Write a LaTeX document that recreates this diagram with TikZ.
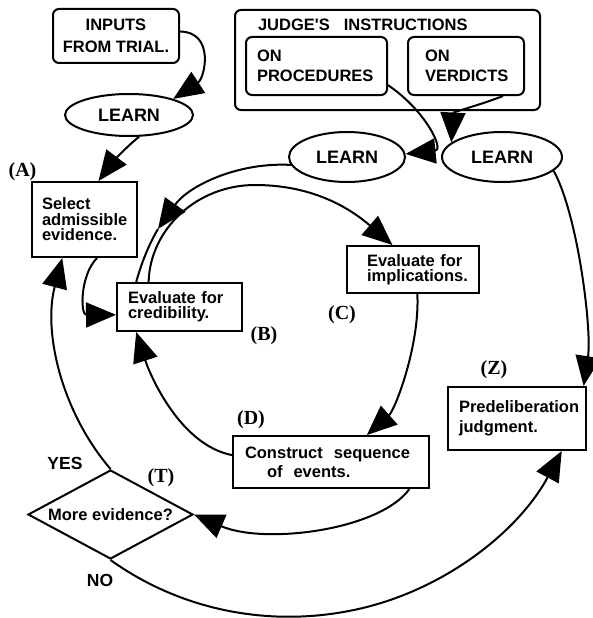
\documentclass[tikz,border=0pt]{standalone}
\usepackage{fontspec}
\newfontfamily\hv{Liberation Sans}
\newfontfamily\tm{Liberation Serif}
\usetikzlibrary{arrows.meta,shapes.geometric}
\hfuzz=40pt
\begin{document}
\begin{tikzpicture}[x=1pt,y=-1pt,line width=2pt,
  arr/.style={-{Triangle[length=30pt,width=25pt]}},
  box/.style={draw,rectangle,inner ysep=0pt,align=left,
    font=\hv\bfseries\fontsize{16.5pt}{#1}\selectfont},
  rbox/.style={box=#1,rounded corners=6pt},
  learn/.style={draw,ellipse,inner sep=0pt,
    font=\hv\bfseries\fontsize{18pt}{20pt}\selectfont},
  lettertag/.style={inner sep=0pt,font=\tm\bfseries\fontsize{20pt}{22pt}\selectfont},
  answer/.style={inner sep=0pt,font=\hv\bfseries\fontsize{17.5pt}{20pt}\selectfont},
]
\useasboundingbox (0,0) rectangle (593,618);

% --- sources of information ---
\node[rbox=22pt,align=center,inner xsep=0pt,minimum width=126pt,minimum height=54pt]
  (inputs) at (116,36) {INPUTS\\FROM~TRIAL.};
\node[draw,rounded corners=6pt,inner sep=0pt,minimum width=305pt,minimum height=100pt]
  (judge) at (387.5,60) {};
\node[anchor=base west,inner sep=0pt,font=\hv\bfseries\fontsize{16.5pt}{20pt}\selectfont]
  (judgetitle) at (257,31) {JUDGE'S\hspace{14pt}INSTRUCTIONS};
\node[rbox=20pt,inner xsep=11pt,text width=119pt,minimum height=58pt]
  (proc) at (316.5,66) {ON\\PROCEDURES};
\node[rbox=20pt,inner xsep=17pt,text width=82pt,minimum height=58pt]
  (verd) at (466,66) {ON\\VERDICTS};

% --- learning steps ---
\node[learn,minimum width=128pt,minimum height=42pt] (learn1) at (129,115) {LEARN};
\node[learn,minimum width=116pt,minimum height=50pt] (learn2) at (347,157) {LEARN};
\node[learn,minimum width=120pt,minimum height=50pt] (learn3) at (502,157) {LEARN};

% --- processing stages ---
\node[box=15.5pt,inner xsep=10pt,text width=85pt,minimum height=75pt]
  (select) at (84.5,219.5) {Select\\admissible\\evidence.};
\node[box=15pt,inner xsep=11pt,text width=103pt,minimum height=48pt]
  (cred) at (179.5,307) {Evaluate~for\\credibility.};
\node[box=15pt,inner xsep=20pt,text width=92pt,minimum height=47pt]
  (impl) at (413,269.5) {Evaluate~for\\implications.};
\node[box=19pt,inner xsep=12pt,text width=172pt,minimum height=52pt]
  (construct) at (331,462) {Construct~~sequence\\\hspace*{22pt}of~~events.};
\node[box=20pt,inner xsep=11pt,text width=116pt,minimum height=63pt]
  (pred) at (517,418.5) {Predeliberation\\judgment.};
\node[draw,diamond,aspect=1.85,inner sep=0pt,minimum width=165pt,minimum height=89pt,
  font=\hv\bfseries\fontsize{16.5pt}{18pt}\selectfont]
  (test) at (110.5,514.5) {More evidence?};

% --- stage letters and answers ---
\node[lettertag] (tA) at (22.5,171.5) {(A)};
\node[lettertag] (tB) at (264,336) {(B)};
\node[lettertag] (tC) at (342,315) {(C)};
\node[lettertag] (tD) at (251,420) {(D)};
\node[lettertag] (tT) at (161,478) {(T)};
\node[lettertag] (tZ) at (494,370) {(Z)};
\node[answer] (yes) at (65,463.5) {YES};
\node[answer] (no) at (100,580) {NO};

% --- connectors ---
\draw[arr] (inputs.4) .. controls (215,32) and (205,78) .. (learn1.20);
\draw[arr] (learn1.-65) .. controls (125,148) and (112,163) .. (select.70);
\draw[arr] (proc.-15) .. controls (425,110) and (445,150) .. (learn2.3);
\draw[arr] (verd.-39) .. controls (480,105) and (453,112) .. (learn3.164);
\draw[arr] (learn3.-15) .. controls (578,215) and (592,330) .. (pred.26);

% outer arc from procedures learning into credibility, tip midway
\coordinate (mA) at (158,229);
\draw[arr] (learn2.188) .. controls (237.5,162) and (188.3,186) .. (mA);
\draw (mA) .. controls (148,246) and (141.2,264) .. (cred.150);

% inner evaluation cycle
\draw[arr] (cred.141) .. controls (150,229) and (197,185) .. (255,185)
  .. controls (315,185) and (352,210) .. (impl.130);
\draw[arr] (impl.-80) .. controls (420,345) and (395,410) .. (construct.37);
\draw[arr] (construct.176) .. controls (180,445) and (150,375) .. (cred.210);
\draw[arr] (select.-72) .. controls (80,275) and (80,315) .. (cred.187);

% decision loop
\draw[arr] (construct.-19) .. controls (380,530) and (265,545) .. (test.east);
\draw[arr] (test.north) .. controls (61.2,411.4) and (42.9,331.6) .. (select.240);
\draw[arr] (test.south) .. controls (183.1,612.0) and (274.3,628.5) .. (360.6,608.5)
  .. controls (446.9,588.5) and (519.3,530.1) .. (pred.-36);
\end{tikzpicture}
\end{document}
